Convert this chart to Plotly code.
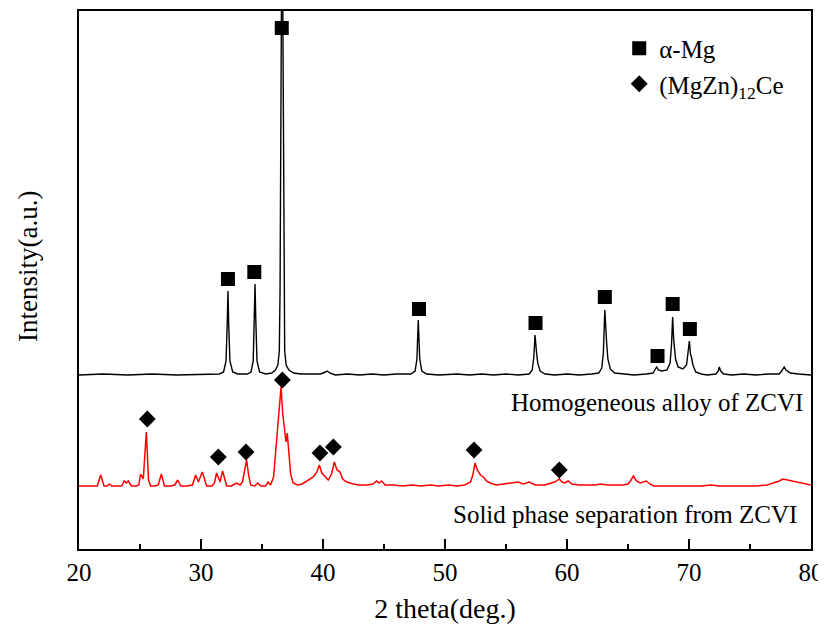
import plotly.graph_objects as go

# ---------------- data ----------------
# Homogeneous alloy of ZCVI (black trace), arbitrary intensity units
hom_x = [20, 22, 24, 26, 28, 30, 31.5, 31.85, 32.05, 32.15, 32.21, 32.27, 32.37, 32.6,
         33.0, 33.8, 34.1, 34.28, 34.38, 34.43, 34.49, 34.59, 34.8, 35.3, 35.8, 36.1,
         36.3, 36.42, 36.48, 36.54, 36.6, 36.64, 36.68, 36.74, 36.8, 36.86, 36.98, 37.2,
         37.6, 38.2, 39.0, 39.8, 40.2, 40.35, 40.55, 41.0, 42, 43, 44, 45, 46, 47.2,
         47.55, 47.7, 47.76, 47.81, 47.86, 47.93, 48.1, 48.5, 49.5, 51, 52, 53, 54, 55,
         56, 56.9, 57.15, 57.28, 57.38, 57.45, 57.5, 57.6, 57.8, 58.2, 59, 60, 61, 62,
         62.6, 62.85, 62.98, 63.1, 63.19, 63.25, 63.35, 63.55, 63.9, 64.5, 65.5, 66.5,
         67.05, 67.25, 67.35, 67.5, 67.75, 68.2, 68.45, 68.57, 68.66, 68.74, 68.8, 68.9,
         69.1, 69.5, 69.8, 69.93, 70.03, 70.12, 70.2, 70.32, 70.55, 71.0, 71.5, 72.2,
         72.4, 72.48, 72.6, 72.85, 73.5, 74.5, 75.5, 76.5, 77.4, 77.65, 77.8, 77.95,
         78.3, 79, 80]
hom_y = [174, 175, 174, 175, 174, 175, 175, 177, 188, 225, 258, 225, 188, 177,
         175, 175, 177, 188, 230, 265, 230, 188, 177, 175, 176, 179,
         184, 198, 260, 420, 600, 660, 600, 420, 260, 198, 184, 179,
         176, 175, 175, 175, 177, 178, 176, 174, 175, 174, 175, 174, 175, 175,
         178, 190, 212, 229, 212, 190, 178, 175, 174, 175, 174, 175, 174, 175,
         174, 175, 179, 192, 214, 200, 197, 186, 178, 175, 174, 175, 174, 175,
         176, 181, 196, 239, 212, 206, 190, 180, 176, 175, 174, 175,
         176, 180, 182, 179, 178, 179, 186, 205, 232, 210, 204, 190,
         182, 180, 184, 195, 208, 195, 192, 184, 177, 175, 174, 175,
         178, 182, 178, 175, 174, 175, 174, 175, 175, 179, 182, 179,
         176, 175, 174]

# Solid phase separation from ZCVI (red trace)
sol_x = [20, 20.8, 21.5, 21.78, 22.05, 22.3, 22.49, 22.7, 23.2, 23.5, 23.7, 23.87, 24.04,
         24.3, 24.7, 24.9, 25.05, 25.27, 25.52, 25.7, 25.87, 26.2, 26.5, 26.75, 27.0,
         27.5, 27.85, 28.09, 28.35, 28.9, 29.3, 29.56, 29.78, 30.11, 30.46, 30.9, 31.1,
         31.28, 31.56, 31.77, 32.1, 32.5, 32.9, 33.2, 33.4, 33.6, 33.74, 33.9, 34.07,
         34.4, 34.64, 34.9, 35.3, 35.5, 35.7, 35.95, 36.1, 36.27, 36.45, 36.56, 36.7,
         36.85, 36.97, 37.07, 37.2, 37.35, 37.55, 37.9, 38.3, 38.8, 39.2, 39.5, 39.7,
         39.9, 40.16, 40.43, 40.7, 40.93, 41.15, 41.4, 41.61, 41.94, 42.5, 43.0, 43.6,
         44.1, 44.4, 44.6, 44.8, 45.1, 45.8, 46.5, 47.3, 48.0, 48.8, 49.5, 50.3, 51.0,
         51.6, 52.1, 52.3, 52.46, 52.65, 52.9, 53.14, 53.4, 53.7, 54.2, 54.8, 55.5,
         56.0, 56.4, 56.9, 57.4, 58.2, 58.7, 59.0, 59.37, 59.6, 59.8, 60.1, 60.4, 61.0,
         61.7, 62.3, 62.8, 63.3, 64.0, 64.6, 65.0, 65.2, 65.44, 65.7, 66.0, 66.5, 66.8,
         67.1, 68.0, 69.0, 70.0, 71.0, 71.8, 72.5, 73.5, 74.5, 75.5, 76.4, 77.0, 77.4,
         77.7, 78.1, 78.6, 79.1, 79.6, 80.0]
sol_y = [63, 63, 63, 74, 63, 63, 65, 63, 63, 63, 68, 66, 68,
         63, 63, 64, 75, 70, 117, 69, 63, 63, 64, 75, 63,
         63, 64, 69, 63, 63, 64, 74, 67, 77, 63, 63, 66,
         76, 67, 78, 63, 63, 66, 64, 67, 78, 89, 74, 64,
         63, 66, 63, 63, 67, 64, 72, 95, 120, 150, 162, 135,
         118, 107, 116, 95, 75, 66, 64, 65, 69, 72, 77, 84,
         76, 72, 69, 75, 87, 79, 77, 70, 67, 65, 64, 64,
         65, 68, 66, 68, 64, 64, 63, 64, 63, 64, 63, 64, 63,
         64, 67, 75, 86, 79, 74, 72, 68, 66, 64, 65, 66,
         67, 65, 67, 64, 64, 66, 67, 70, 67, 66, 68, 65, 64,
         64, 64, 65, 64, 64, 64, 65, 68, 73, 68, 66, 68, 65,
         63, 63, 63, 63, 63, 64, 63, 63, 63, 63, 64, 66, 68,
         70, 69, 67, 66, 65, 64]

# phase markers
mg_x = [32.21, 34.37, 36.62, 47.87, 57.42, 63.1, 67.42, 68.66, 70.07]
mg_y = [270, 277, 521, 240, 226, 252, 193, 245, 220]
ce_x = [25.6, 31.42, 33.69, 36.67, 39.75, 40.85, 52.38, 59.37]
ce_y = [130, 92, 97, 169, 96, 102, 99, 79]

x_ticks = [20, 30, 40, 50, 60, 70, 80]
x_tick_text = ["20", "30", "40", "50", "60", "70", "80"]

FONT = "Liberation Serif, Times New Roman, serif"

fig = go.Figure()
fig.add_trace(go.Scatter(x=hom_x, y=hom_y, mode="lines",
                         line=dict(color="black", width=1.4), showlegend=False))
fig.add_trace(go.Scatter(x=sol_x, y=sol_y, mode="lines",
                         line=dict(color="#ff0000", width=1.5), showlegend=False))
fig.add_trace(go.Scatter(x=mg_x, y=mg_y, mode="markers", name="α-Mg",
                         legendgroup="a",
                         marker=dict(symbol="square", size=14, color="black")))
fig.add_trace(go.Scatter(x=ce_x, y=ce_y, mode="markers",
                         name="(MgZn)<sub>12</sub>Ce", legendgroup="b",
                         marker=dict(symbol="diamond", size=13, color="black")))

fig.add_annotation(text="Homogeneous alloy of ZCVI", xref="paper", yref="paper",
                   x=0.992, y=0.2714, xanchor="right", yanchor="middle",
                   showarrow=False, font=dict(family=FONT, size=25, color="black"))
fig.add_annotation(text="Solid phase separation from ZCVI", xref="paper", yref="paper",
                   x=0.984, y=0.0632, xanchor="right", yanchor="middle",
                   showarrow=False, font=dict(family=FONT, size=25, color="black"))
# y-axis title
fig.add_annotation(text="Intensity(a.u.)", xref="paper", yref="paper",
                   x=-0.0697, y=0.526, xanchor="center", yanchor="middle",
                   textangle=-90, showarrow=False,
                   font=dict(family=FONT, size=27, color="black"))

fig.update_layout(
    width=818, height=625,
    margin=dict(l=71, r=15, t=3, b=84, autoexpand=False),
    paper_bgcolor="white", plot_bgcolor="white",
    font=dict(family=FONT, size=25, color="black"),
    showlegend=True,
    legend=dict(x=0.738, y=0.973, xanchor="left", yanchor="top",
                bgcolor="rgba(0,0,0,0)", font=dict(family=FONT, size=25),
                traceorder="grouped", tracegroupgap=0),
    xaxis=dict(range=[20, 80], tickvals=x_ticks, ticktext=x_tick_text,
               ticks="inside", ticklen=10, tickwidth=2, tickcolor="black",
               minor=dict(dtick=5, ticks="inside", ticklen=5, tickwidth=2,
                          tickcolor="black"),
               showline=True, linewidth=2, linecolor="black", mirror=True,
               showgrid=False, zeroline=False, ticklabelstandoff=0,
               automargin=False,
               tickfont=dict(family=FONT, size=25),
               title=dict(text="2 theta(deg.)", font=dict(family=FONT, size=28),
                          standoff=13)),
    yaxis=dict(range=[0, 538], showticklabels=False, ticks="",
               showline=True, linewidth=2, linecolor="black", mirror=True,
               showgrid=False, zeroline=False, automargin=False),
)

fig.write_html("out.html")
